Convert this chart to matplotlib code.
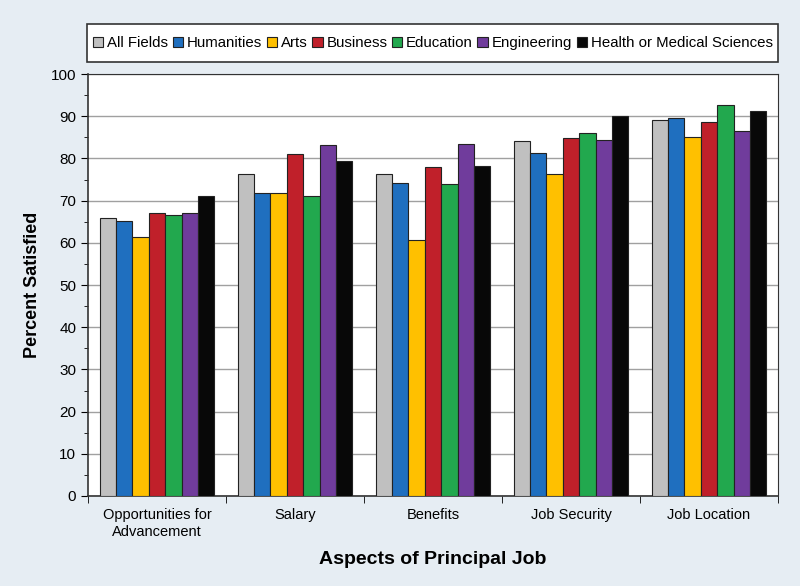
import numpy as np
import matplotlib.pyplot as plt
from matplotlib.patches import Rectangle

plt.rcParams['font.family'] = ['Liberation Sans', 'DejaVu Sans']

categories = ['Opportunities for\nAdvancement', 'Salary', 'Benefits', 'Job Security', 'Job Location']
series = ['All Fields', 'Humanities', 'Arts', 'Business', 'Education', 'Engineering',
          'Health or Medical Sciences']
colors = ['#c0c0c0', '#1f6fbf', '#ffc000', '#c0202a', '#22a84e', '#703c9c', '#080808']

all_fields  = [66.0, 76.2, 76.4, 84.2, 89.2]
humanities  = [65.2, 71.7, 74.3, 81.3, 89.5]
arts        = [61.5, 71.7, 60.7, 76.2, 85.2]
business    = [67.1, 81.1, 77.9, 84.9, 88.6]
education   = [66.7, 71.1, 74.0, 86.1, 92.6]
engineering = [67.1, 83.3, 83.4, 84.3, 86.4]
health      = [71.2, 79.4, 78.3, 90.1, 91.2]
values = [all_fields, humanities, arts, business, education, engineering, health]

bg = '#e6edf3'
fig = plt.figure(figsize=(8, 5.86), dpi=100, facecolor=bg)
ax = fig.add_axes([0.11, 0.1536, 0.8625, 0.72])
ax.set_facecolor('white')

x = np.arange(len(categories))
n = len(series)
w = 0.83 / n
for i, (name, vals, c) in enumerate(zip(series, values, colors)):
    ax.bar(x + (i - (n - 1) / 2) * w, vals, width=w, color=c, edgecolor='#222222',
           linewidth=0.8, label=name, zorder=3)

ax.set_xlim(-0.5, len(categories) - 0.5)
ax.set_ylim(0, 100)
ax.set_yticks(np.arange(0, 101, 10))
ax.set_yticks(np.arange(0, 101, 5), minor=True)
ax.yaxis.grid(True, color='#a0a0a0', linewidth=1, zorder=0)
ax.set_xticks(x)
ax.set_xticklabels(categories, fontsize=10.5)
ax.set_xticks(np.arange(-0.5, len(categories)), minor=True)
ax.tick_params(axis='x', which='major', length=0, pad=9)
ax.tick_params(axis='x', which='minor', length=5, direction='out')
ax.tick_params(axis='y', which='major', length=5, direction='out', labelsize=11)
ax.tick_params(axis='y', which='minor', length=3, direction='out')
for s in ax.spines.values():
    s.set_color('#333333')
ax.spines['bottom'].set_linewidth(1.2)
ax.spines['left'].set_linewidth(1.2)

ax.set_ylabel('Percent Satisfied', fontsize=13, fontweight='bold', labelpad=7)
ax.set_xlabel('Aspects of Principal Job', fontsize=14, fontweight='bold', labelpad=9)

# legend box spanning the plot width
box = (0.109, 0.894, 0.864, 0.065)
fig.patches.append(Rectangle(box[:2], box[2], box[3], transform=fig.transFigure,
                             facecolor='white', edgecolor='#333333', linewidth=1.2))
fig.legend(loc='center', bbox_to_anchor=(box[0] + box[2] / 2, box[1] + box[3] / 2),
           ncol=7, fontsize=10.8, frameon=False,
           handlelength=0.7, handleheight=0.7, handletextpad=0.25,
           columnspacing=0.3, borderaxespad=0, borderpad=0)

fig.savefig('out.png', dpi=100, facecolor=bg)
